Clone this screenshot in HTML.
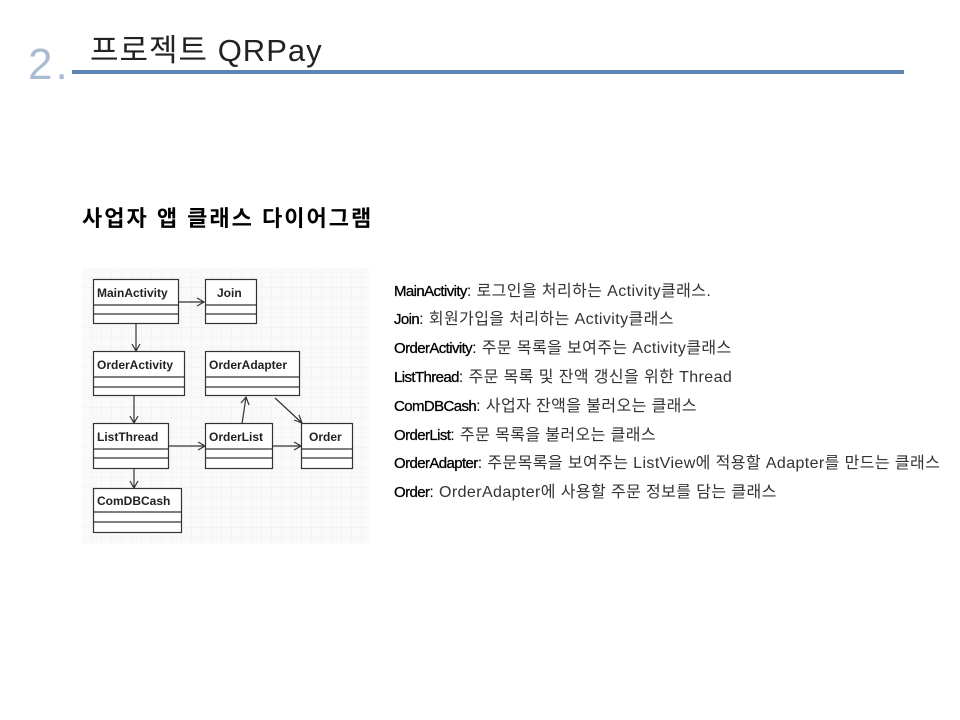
<!DOCTYPE html>
<html><head><meta charset="utf-8"><style>
body{margin:0;width:960px;height:720px;background:#fff;position:relative;overflow:hidden;font-family:"Liberation Sans","Noto Sans CJK KR",sans-serif}
.a{position:absolute;white-space:nowrap}
.d{position:absolute;left:394px;font-size:16px;color:#111;white-space:nowrap;width:566px;overflow:hidden;letter-spacing:0.4px}
.d b{font-weight:normal;color:#000;-webkit-text-stroke:0.3px #000;letter-spacing:-0.6px;font-size:15px}
.d span{color:#333}
</style></head><body>
<div class="a" style="left:28px;top:40px;font-size:44px;color:#a9bcd3;font-weight:300;letter-spacing:3px">2.</div>
<div class="a" style="left:90px;top:25px;font-size:31px;color:#222;letter-spacing:1px">프로젝트 QRPay</div>
<div class="a" style="left:72px;top:70px;width:832px;height:4px;background:#5b84b3"></div>
<div class="a" style="left:82px;top:201px;font-size:22px;font-weight:bold;color:#000;letter-spacing:2px">사업자 앱 클래스 다이어그램</div>

<svg class="a" style="left:82px;top:268px" width="287" height="276" viewBox="82 268 287 276">
<defs><pattern id="g" width="10" height="10" patternUnits="userSpaceOnUse" x="82" y="268"><path d="M10 0V10H0" fill="none" stroke="#eee" stroke-width="1"/></pattern></defs>
<rect x="82" y="268" width="287" height="276" fill="#fafafa"/>
<rect x="82" y="268" width="287" height="276" fill="url(#g)"/>
<g font-family="Liberation Sans,sans-serif" font-weight="bold" font-size="12" fill="#222" stroke="#333" stroke-width="1.2">
<g fill="#fff"><rect x="93.5" y="279.5" width="85" height="44"/><rect x="205.5" y="279.5" width="51" height="44"/><rect x="93.5" y="351.5" width="91" height="44"/><rect x="205.5" y="351.5" width="94" height="44"/><rect x="93.5" y="423.5" width="75" height="45"/><rect x="205.5" y="423.5" width="67" height="45"/><rect x="301.5" y="423.5" width="51" height="45"/><rect x="93.5" y="488.5" width="88" height="44"/></g>
<path fill="none" d="M93 305H178M93 314H178M205 305H256M205 314H256M93 377H184M93 387H184M205 377H299M205 387H299M93 449H168M93 458H168M205 449H272M205 458H272M301 449H352M301 458H352M93 512H181M93 522H181"/>
<path fill="none" d="M179 302H204M197 298L204 302L197 306M136 324V351M132 344L136 351L140 344M134 396V423M130 416L134 423L138 416M169 446H205M198 442L205 446L198 450M273 446H301M294 442L301 446L294 450M134 469V488M130 481L134 488L138 481M242 424L246 397M241 403L246 397L249 405M275 398L302 423M294 420L302 423L299 415"/>
<g stroke="none">
<text x="97" y="297">MainActivity</text><text x="217" y="297">Join</text>
<text x="97" y="369">OrderActivity</text><text x="209" y="369">OrderAdapter</text>
<text x="97" y="441">ListThread</text><text x="209" y="441">OrderList</text><text x="309" y="441">Order</text>
<text x="97" y="505">ComDBCash</text></g>
</g></svg>

<div class="d" style="top:277px"><b>MainActivity</b>: <span>로그인을 처리하는 Activity클래스.</span></div>
<div class="d" style="top:305px"><b>Join</b>: <span>회원가입을 처리하는 Activity클래스</span></div>
<div class="d" style="top:334px"><b>OrderActivity</b>: <span>주문 목록을 보여주는 Activity클래스</span></div>
<div class="d" style="top:363px"><b>ListThread</b>: <span>주문 목록 및 잔액 갱신을 위한 Thread</span></div>
<div class="d" style="top:392px"><b>ComDBCash</b>: <span>사업자 잔액을 불러오는 클래스</span></div>
<div class="d" style="top:421px"><b>OrderList</b>: <span>주문 목록을 불러오는 클래스</span></div>
<div class="d" style="top:449px"><b>OrderAdapter</b>: <span>주문목록을 보여주는 ListView에 적용할 Adapter를 만드는 클래스</span></div>
<div class="d" style="top:478px"><b>Order</b>: <span> OrderAdapter에 사용할 주문 정보를 담는 클래스</span></div>
</body></html>
